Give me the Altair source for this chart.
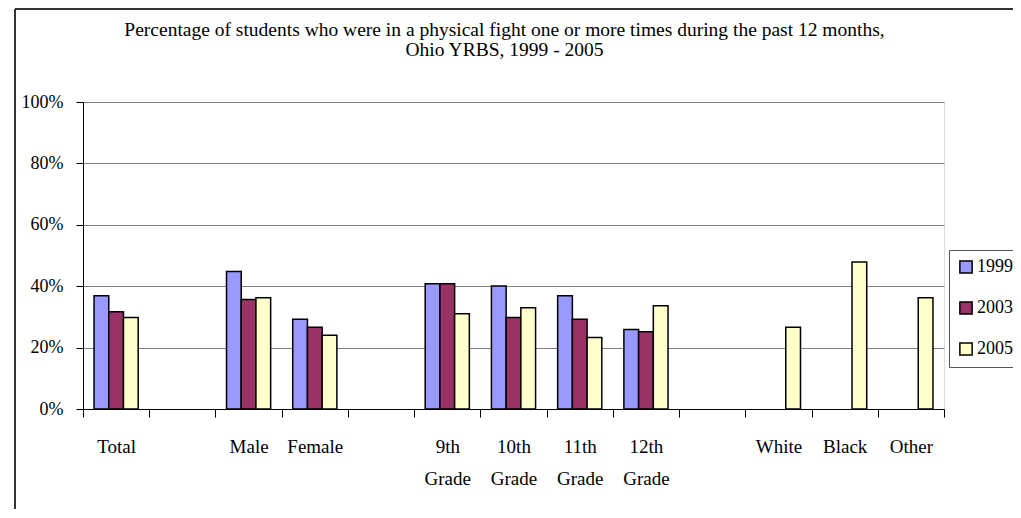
import altair as alt
import pandas as pd

categories = ["Total", "gap1", "Male", "Female", "gap2", "9th Grade", "10th Grade",
              "11th Grade", "12th Grade", "gap3", "White", "Black", "Other"]
years = ["1999", "2003", "2005"]
colors = ["#9999FF", "#993366", "#FFFFCC"]

groups = ["Total", "Male", "Female", "9th Grade", "10th Grade", "11th Grade", "12th Grade",
          "White", "Black", "Other"]
v1999 = [36.9, 44.8, 29.2, 40.8, 40.1, 36.9, 25.9, None, None, None]
v2003 = [31.7, 35.7, 26.6, 40.8, 29.8, 29.2, 25.2, None, None, None]
v2005 = [29.8, 36.2, 24.0, 31.0, 33.0, 23.3, 33.6, 26.6, 47.9, 36.2]

rows = []
for yr, vals in zip(years, [v1999, v2003, v2005]):
    for g, v in zip(groups, vals):
        if v is not None:
            rows.append({"group": g, "year": yr, "pct": v})
df = pd.DataFrame(rows)

FONT = "Liberation Serif"
W, H = 861, 307

xlabel = ("isString(datum.value) ? (indexof(datum.value, 'gap') == 0 ? '' : "
          "split(datum.value, ' ')) : ''")

bars = alt.Chart(df).mark_bar(stroke="black", strokeWidth=1.5).encode(
    x=alt.X("group:N", sort=categories,
            scale=alt.Scale(domain=categories, paddingInner=0, paddingOuter=0),
            axis=alt.Axis(title=None, labelAngle=0, tickBand="extent", tickSize=8,
                          tickColor="black", domainColor="black", labelFont=FONT,
                          labelFontSize=19, labelColor="black", labelPadding=20,
                          labelLineHeight=32, labelBaseline="top", labelExpr=xlabel)),
    xOffset=alt.XOffset("year:N", sort=years,
                        scale=alt.Scale(domain=years, paddingInner=0, paddingOuter=0.75)),
    y=alt.Y("pct:Q", scale=alt.Scale(domain=[0, 100]),
            axis=alt.Axis(title=None, values=[0, 20, 40, 60, 80, 100],
                          labelExpr="isValid(datum.value) ? datum.value + '%' : ''",
                          grid=True, gridColor="#808080", gridWidth=1.2, tickSize=7,
                          tickColor="black", domainColor="black", labelFont=FONT,
                          labelFontSize=18, labelColor="black", labelPadding=13)),
    color=alt.Color("year:N", sort=years, scale=alt.Scale(domain=years, range=colors),
                    legend=alt.Legend(title=None, orient="none", legendX=866, legendY=148,
                                      symbolType="square", symbolSize=150, symbolStrokeColor="black",
                                      symbolStrokeWidth=1.5, labelFont=FONT, labelFontSize=18,
                                      labelColor="black", rowPadding=21, padding=8,
                                      strokeColor="#555555", fillColor="white", labelOffset=2)),
)

border_left = alt.Chart(pd.DataFrame({"a": [0]})).mark_rule(color="#333333", strokeWidth=2).encode(
    x=alt.value(-68), y=alt.value(-93), y2=alt.value(600))
border_top = alt.Chart(pd.DataFrame({"a": [0]})).mark_rule(color="#333333", strokeWidth=2).encode(
    x=alt.value(-68), x2=alt.value(1000), y=alt.value(-93))

chart = alt.layer(bars, border_left, border_top).properties(
    width=W, height=H,
    autosize=alt.AutoSizeParams(type="none"),
    padding={"left": 75, "top": 94, "right": 69, "bottom": 100},
    title=alt.Title(["Percentage of students who were in a physical fight one or more times during the past 12 months,",
                     "Ohio YRBS, 1999 - 2005"],
                    font=FONT, fontSize=19.5, fontWeight="normal", color="black", anchor="middle",
                    frame="group", baseline="bottom", dx=-9, dy=116, offset=45, lineHeight=20),
).configure_view(stroke="#808080", strokeWidth=1.2).configure(background="white")

chart.save("out.html", embed_options={"renderer": "svg", "actions": False})
